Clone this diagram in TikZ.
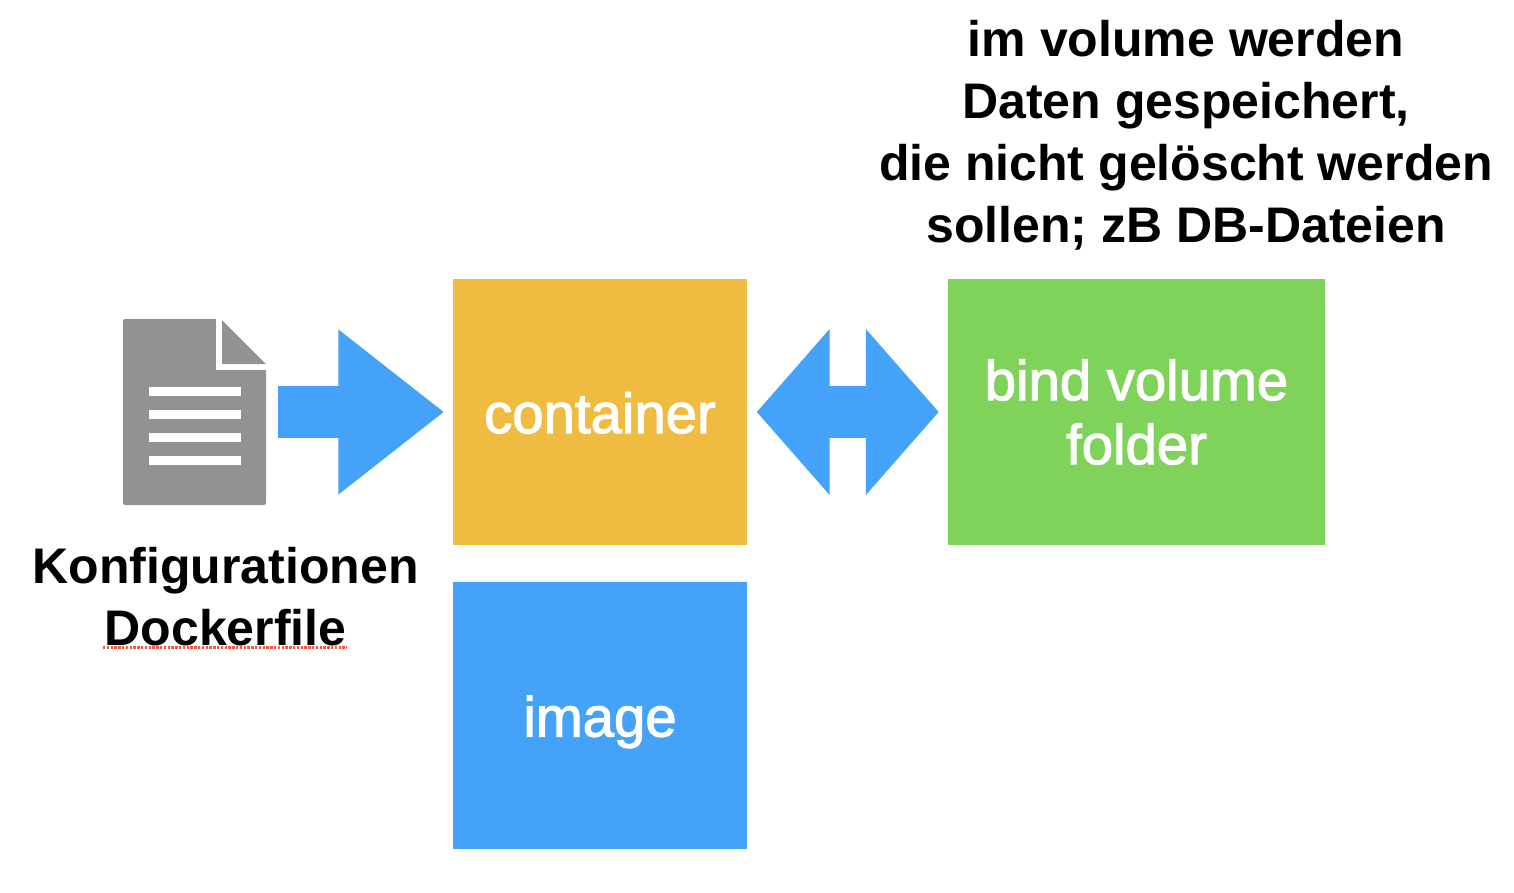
\documentclass[tikz,border=0pt]{standalone}
\usepackage{fontspec}
\setmainfont{Liberation Sans}
\newfontfamily\boxfont[FakeBold=2]{Liberation Sans}
\usetikzlibrary{arrows.meta}
\definecolor{boxorange}{HTML}{F0BB41}
\definecolor{boxgreen}{HTML}{80D35A}
\definecolor{boxblue}{HTML}{44A2F8}
\definecolor{docgray}{HTML}{929292}
\definecolor{squiggle}{HTML}{F05A4A}
\tikzset{
	box/.style={minimum height=266pt,inner sep=0pt,text=white,align=center,font=\fontsize{56.3}{64}\boxfont},
	caption/.style={inner sep=0pt,align=center,font=\fontsize{50}{62}\selectfont\bfseries},
	blockarrow/.style={draw=boxblue,line width=52pt},
}
\begin{document}
\begin{tikzpicture}[x=1pt,y=-1pt]
		\useasboundingbox (0,0) rectangle (1514,892);
		\node[box,fill=boxorange,minimum width=294pt,text height=42pt,text depth=0pt] (container) at (600,412) {container};
		\node[box,fill=boxblue,minimum width=294pt,minimum height=267pt,text height=42pt,text depth=0pt] (image) at (600,715.5) {image};
		\node[box,fill=boxgreen,minimum width=377pt] (volume) at (1136.5,412) {bind volume\\folder};

		\node[fill=docgray,rounded corners=2pt,minimum width=143pt,minimum height=186pt,inner sep=0pt] (doc) at (194.5,412) {};
		\fill[white] (216,318) rectangle (268,370);
		\fill[docgray] (222,320) -- (266,364) -- (222,364) -- cycle;
		\foreach \y in {387,410,433,455.5}
			\fill[white] (149,\y) rectangle (241,\y+9);

		\draw[blockarrow,-{Triangle[length=106pt,width=158pt]},shorten <=11.5pt,shorten >=8.5pt] (doc.east) -- (container.west);
		\draw[blockarrow,{Triangle[length=73pt,width=162pt]}-{Triangle[length=73pt,width=162pt]},shorten <=9.5pt,shorten >=9pt] (container.east) -- (volume.west);

		\node[caption] (config) at (225.5,597) {Konfigurationen\\Dockerfile};
		\node[caption] (note) at (1186,135.5) {im volume werden\\Daten gespeichert,\\die nicht gelöscht werden\\sollen; zB DB-Dateien};
		\draw[squiggle,line width=3pt,dash pattern=on 2.4pt off 1.4pt] (103,647) -- (347,647);
\end{tikzpicture}
\end{document}
